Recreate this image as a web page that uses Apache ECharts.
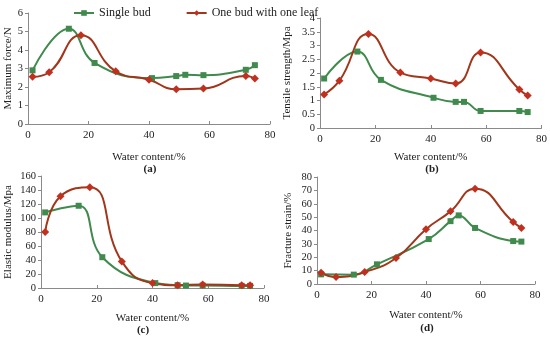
<!DOCTYPE html>
<html><head><meta charset="utf-8">
<script src="https://cdn.jsdelivr.net/npm/echarts@6/dist/echarts.min.js"></script>
<style>html,body{margin:0;padding:0;background:#fff}#c{width:550px;height:340px}</style>
</head><body><div id="c"></div>
<script>
const waterSingle = [1.5, 13.5, 22, 41, 49, 52, 58, 72, 75];
const waterLeaf = [1.5, 7, 17.5, 29, 40, 49, 58, 72, 75];
const forceSingle = [2.9, 5.15, 3.3, 2.48, 2.59, 2.66, 2.64, 2.93, 3.18];
const forceLeaf = [2.55, 2.8, 4.8, 2.85, 2.39, 1.88, 1.92, 2.59, 2.46];
const tensileSingle = [1.8, 2.78, 1.75, 1.1, 0.95, 0.95, 0.62, 0.62, 0.58];
const tensileLeaf = [1.22, 1.72, 3.42, 2.02, 1.8, 1.62, 2.75, 1.4, 1.18];
const modulusSingle = [108, 117.5, 44, 7, 4, 3.5, 3.5, 3, 3];
const modulusLeaf = [80, 131, 144, 38, 7, 4, 5, 4, 4];
const strainSingle = [7.2, 7, 14.7, 33.6, 47, 51.3, 41.9, 32.1, 31.7];
const strainLeaf = [8.5, 5.2, 9, 19.4, 41, 54.3, 71.3, 46.4, 41.9];
const seriesNames = ['Single bud', 'One bud with one leaf'];
const yNames = ['Maximum force/N', 'Tensile strength/Mpa', 'Elastic modulus/Mpa', 'Fracture strain/%'];
const xName = 'Water content/%';
const panelLabels = ['(a)', '(b)', '(c)', '(d)'];
const yMax = [6, 4, 160, 80];
const yStep = [1, 0.5, 20, 10];

const FONT = '"Liberation Serif", "Times New Roman", serif';
const GREEN = '#3f8a4c', RED_LINE = '#a2361b', RED_MARK = '#c0301f';
const zip = (xs, ys) => xs.map((x, i) => [x, ys[i]]);

const grids = [
  {left: 28, top: 13, width: 242, height: 111},
  {left: 320, top: 18, width: 223, height: 110},
  {left: 41, top: 176, width: 223, height: 112},
  {left: 317, top: 177, width: 218, height: 107}
];
const xNameGap = [28, 24, 25, 26];
const yNameGap = [12, 27, 27, 23];
const pairs = [[forceSingle, forceLeaf], [tensileSingle, tensileLeaf], [modulusSingle, modulusLeaf], [strainSingle, strainLeaf]];

const axisLine = {show: true, lineStyle: {color: '#8a8a8a', width: 1}};
const xAxis = grids.map((g, i) => ({
  type: 'value', gridIndex: i, min: 0, max: 80, interval: 20,
  name: xName, nameLocation: 'middle', nameGap: xNameGap[i],
  nameTextStyle: {fontFamily: FONT, fontSize: 11, color: '#222'},
  axisLine, axisTick: {show: true, inside: true, length: 3, lineStyle: {color: '#8a8a8a'}},
  axisLabel: {fontFamily: FONT, fontSize: 11, color: '#222', margin: 6},
  splitLine: {show: false}
}));
const yAxis = grids.map((g, i) => ({
  type: 'value', gridIndex: i, min: 0, max: yMax[i], interval: yStep[i],
  name: yNames[i], nameLocation: 'middle', nameGap: yNameGap[i], nameRotate: 90,
  nameTextStyle: {fontFamily: FONT, fontSize: 11, color: '#222'},
  axisLine, axisTick: {show: true, inside: false, length: 3, lineStyle: {color: '#8a8a8a'}},
  axisLabel: {fontFamily: FONT, fontSize: 10.5, color: '#222', margin: 5},
  splitLine: {show: false}
}));
const series = [];
pairs.forEach((p, i) => {
  series.push({
    name: seriesNames[0], type: 'line', xAxisIndex: i, yAxisIndex: i,
    data: zip(waterSingle, p[0]), smooth: 0.45,
    symbol: 'rect', symbolSize: 6,
    lineStyle: {color: GREEN, width: 2}, itemStyle: {color: GREEN}
  });
  series.push({
    name: seriesNames[1], type: 'line', xAxisIndex: i, yAxisIndex: i,
    data: zip(waterLeaf, p[1]), smooth: 0.5,
    symbol: 'diamond', symbolSize: 8,
    lineStyle: {color: RED_LINE, width: 2}, itemStyle: {color: RED_MARK}
  });
});
const labelPos = [[150, 169], [432, 169], [143, 330], [427, 328]];
const graphic = panelLabels.map((t, i) => ({
  type: 'text', x: labelPos[i][0], y: labelPos[i][1],
  style: {text: t, fontFamily: FONT, fontSize: 11, fontWeight: 'bold', fill: '#222', align: 'center', verticalAlign: 'middle'}
}));

const chart = echarts.init(document.getElementById('c'), null, {renderer: 'canvas'});
chart.setOption({
  animation: false,
  backgroundColor: '#fff',
  legend: {
    top: 2, left: 68, itemWidth: 20, itemHeight: 7, itemGap: 35,
    data: seriesNames,
    textStyle: {fontFamily: FONT, fontSize: 12, color: '#222'}
  },
  grid: grids, xAxis, yAxis, series, graphic
});
</script></body></html>
